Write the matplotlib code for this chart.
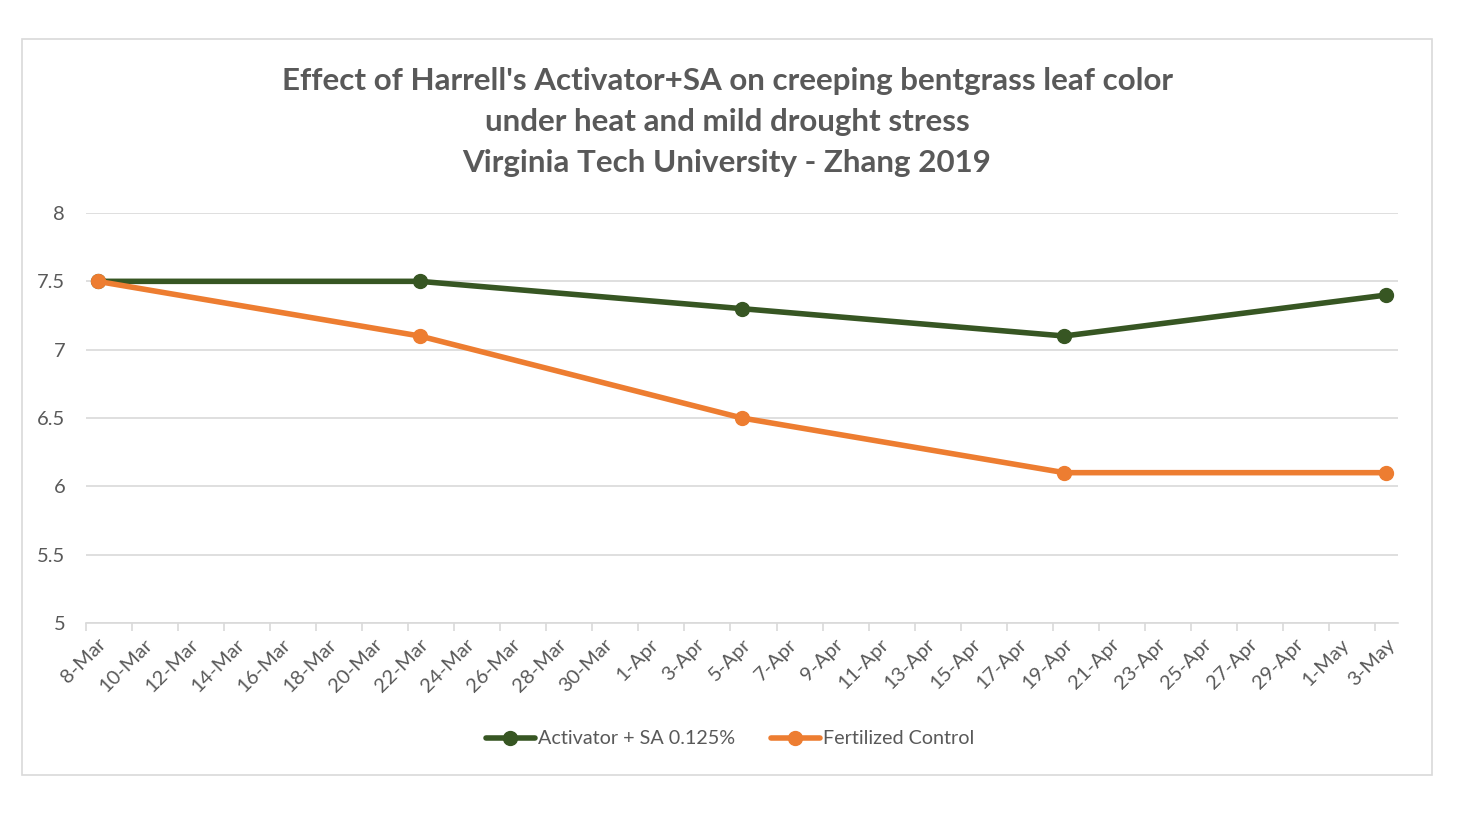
import numpy as np
import matplotlib.pyplot as plt
from matplotlib.patches import Rectangle
from datetime import date, timedelta

# --- data ---
start = date(2019, 3, 8)
end = date(2019, 5, 3)
dates = [date(2019, 3, 8), date(2019, 3, 22), date(2019, 4, 5), date(2019, 4, 19), date(2019, 5, 3)]
activator = [7.5, 7.5, 7.3, 7.1, 7.4]
control = [7.5, 7.1, 6.5, 6.1, 6.1]
series_names = ['Activator + SA 0.125%', 'Fertilized Control']

GREEN = '#375623'
ORANGE = '#ED7D31'
GREY = '#595959'

plt.rcParams['font.family'] = ['Lato', 'DejaVu Sans']

ndays = (end - start).days
x_act = [(d - start).days for d in dates]

fig = plt.figure(figsize=(14.58, 8.14), dpi=100)
fig.patches.append(Rectangle((22 / 1458, 1 - 775 / 814), 1410 / 1458, 736 / 814,
                             transform=fig.transFigure, fill=False,
                             edgecolor='#D9D9D9', linewidth=1.2))

ax = fig.add_axes([86 / 1458, 1 - 623 / 814, 1312 / 1458, 410 / 814])

ax.plot(x_act, activator, color=GREEN, lw=4, marker='o', ms=10,
        label=series_names[0], zorder=3, solid_capstyle='round')
ax.plot(x_act, control, color=ORANGE, lw=4, marker='o', ms=10,
        label=series_names[1], zorder=3, solid_capstyle='round')

ax.set_xlim(-0.5, ndays + 0.5)
ax.set_ylim(5, 8)
ax.set_yticks(np.arange(5, 8.01, 0.5))
ax.set_yticklabels(['5', '5.5', '6', '6.5', '7', '7.5', '8'])

label_days = list(range(0, ndays + 1, 2))
labels = []
for k in label_days:
    d = start + timedelta(days=k)
    labels.append(f"{d.day}-{d.strftime('%b')}")
ax.set_xticks(label_days)
ax.set_xticklabels(labels, rotation=45, ha='right', rotation_mode='anchor')
ax.set_xticks(np.arange(-0.5, ndays, 2), minor=True)
ax.tick_params(axis='x', which='major', length=0, pad=9, labelsize=14.5, labelcolor=GREY)
ax.tick_params(axis='x', which='minor', length=6, color='#D9D9D9', width=1.2)
ax.tick_params(axis='y', length=0, pad=15, labelsize=14.5, labelcolor=GREY)

ax.grid(axis='y', color='#D9D9D9', lw=1.2)
ax.set_axisbelow(True)
for s in ['top', 'right', 'left']:
    ax.spines[s].set_visible(False)
ax.spines['bottom'].set_color('#D9D9D9')
ax.spines['bottom'].set_linewidth(1.2)

fig.text(727 / 1458, 1 - 122 / 814,
         "Effect of Harrell's Activator+SA on creeping bentgrass leaf color\n"
         "under heat and mild drought stress\n"
         "Virginia Tech University - Zhang 2019",
         ha='center', va='center', fontsize=22.6, fontweight='bold', color=GREY,
         linespacing=1.56)

leg = fig.legend(loc='center', bbox_to_anchor=(730 / 1458, 1 - 739 / 814), ncol=2,
                 frameon=False, fontsize=14.2, handlelength=2.5, handletextpad=0.15,
                 columnspacing=1.8, labelcolor=GREY)

fig.savefig('out.png', dpi=100)
